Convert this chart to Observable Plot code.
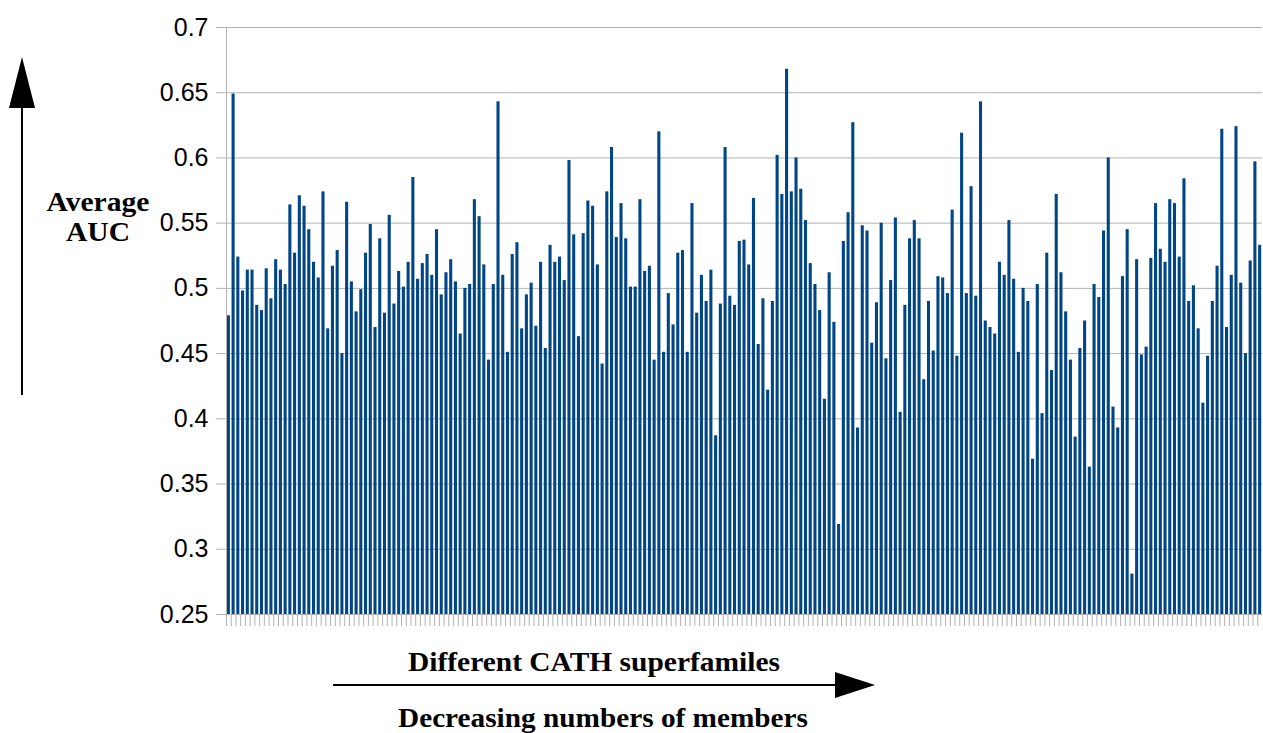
<!DOCTYPE html>
<html><head><meta charset="utf-8">
<script src="https://cdn.jsdelivr.net/npm/d3@7"></script>
<script src="https://cdn.jsdelivr.net/npm/@observablehq/plot@0.6"></script>
<style>body{margin:0;background:#fff} svg{display:block}</style>
</head><body><div id="chart"></div>
<script>
const auc = [
0.479,0.649,0.524,0.498,0.514,0.514,0.487,0.483,0.515,0.492,0.522,0.514,0.503,0.564,0.527,0.571,0.563,0.545,0.520,0.508,0.574,0.469,0.517,0.529,0.450,0.566,0.505,0.482,0.499,0.527,0.549,0.470,0.538,0.481,0.556,0.488,0.513,
0.501,0.520,0.585,0.507,0.519,0.526,0.510,0.545,0.495,0.512,0.522,0.505,0.465,0.500,0.503,0.568,0.555,0.518,0.445,0.503,0.643,0.510,0.451,0.526,0.535,0.469,0.495,0.504,0.471,0.520,0.454,0.533,0.520,0.524,0.506,0.598,0.541,
0.463,0.542,0.567,0.563,0.518,0.442,0.574,0.608,0.539,0.565,0.538,0.501,0.501,0.568,0.513,0.517,0.445,0.620,0.451,0.496,0.472,0.527,0.529,0.451,0.565,0.481,0.510,0.490,0.514,0.387,0.488,0.608,0.494,0.487,0.536,0.537,0.518,
0.569,0.457,0.492,0.422,0.490,0.602,0.572,0.668,0.574,0.600,0.576,0.552,0.519,0.503,0.483,0.415,0.512,0.474,0.319,0.536,0.558,0.627,0.393,0.548,0.544,0.458,0.489,0.550,0.446,0.506,0.554,0.405,0.487,0.538,0.552,0.538,0.430,
0.490,0.452,0.509,0.508,0.496,0.560,0.448,0.619,0.496,0.578,0.494,0.643,0.475,0.470,0.465,0.520,0.510,0.552,0.507,0.451,0.500,0.490,0.369,0.503,0.404,0.527,0.437,0.572,0.512,0.482,0.445,0.386,0.454,0.475,0.363,0.503,0.493,
0.544,0.600,0.409,0.393,0.509,0.545,0.281,0.522,0.449,0.455,0.523,0.565,0.530,0.520,0.568,0.565,0.524,0.584,0.490,0.502,0.469,0.412,0.448,0.490,0.517,0.622,0.470,0.510,0.624,0.504,0.450,0.521,0.597,0.533
];
const families = auc.map((_, i) => i + 1);
const yTicks = [0.25, 0.3, 0.35, 0.4, 0.45, 0.5, 0.55, 0.6, 0.65, 0.7];
const yLabel = ["Average", "AUC"];
const xLabelTop = "Different CATH superfamiles";
const xLabelBottom = "Decreasing numbers of members";

const data = families.map((f, i) => ({family: f, auc: auc[i]}));

const W = 1263, H = 733, mL = 226, mR = 1, mT = 27, mB = 119;
const pInner = 0.35, pOuter = 0.175;
const step = (W - mL - mR) / (families.length - pInner + 2 * pOuter);

const chart = Plot.plot({
  width: W, height: H,
  marginLeft: mL, marginRight: mR, marginTop: mT, marginBottom: mB,
  style: {fontFamily: "'Liberation Sans', Arial, sans-serif", fontSize: "25px", background: "#fff", color: "#000"},
  x: {type: "band", domain: families, paddingInner: pInner, paddingOuter: pOuter, label: null},
  y: {domain: [yTicks[0], yTicks[yTicks.length - 1]], label: null},
  marks: [
    Plot.gridY(yTicks, {stroke: "#b3b3b3", strokeOpacity: 1, strokeWidth: 1}),
    Plot.barY(data, {x: "family", y1: yTicks[0], y2: "auc", fill: "#004586"}),
    Plot.axisY(yTicks, {tickSize: 10, tickPadding: 8, stroke: "#b3b3b3", fill: "#000", fontSize: 25, label: null, tickFormat: d => String(d)}),
    Plot.axisX({tickSize: 12, stroke: "#b3b3b3", dx: -step / 2, label: null, tickFormat: () => ""}),
    Plot.ruleY([yTicks[0]], {stroke: "#b3b3b3"}),
    Plot.frame({anchor: "left", stroke: "#b3b3b3"})
  ]
});
document.getElementById("chart").appendChild(chart);

const svg = d3.select(chart);
const serif = "'Liberation Serif', 'Times New Roman', serif";
const ann = svg.append("g").attr("fill", "#000").attr("stroke", "none");
function label(t, x, y, len) {
  ann.append("text").attr("x", x).attr("y", y).attr("text-anchor", "middle")
    .attr("font-family", serif).attr("font-weight", "bold").attr("font-size", 28)
    .attr("textLength", len).attr("lengthAdjust", "spacingAndGlyphs").text(t);
}
// vertical arrow
ann.append("line").attr("x1", 22).attr("x2", 22).attr("y1", 395).attr("y2", 104).attr("stroke", "#000").attr("stroke-width", 2);
ann.append("path").attr("d", "M22,57 L9,108 L35,108 Z");
label(yLabel[0], 98, 211, 103);
label(yLabel[1], 98, 241, 64);
// horizontal arrow
ann.append("line").attr("x1", 333).attr("x2", 840).attr("y1", 685).attr("y2", 685).attr("stroke", "#000").attr("stroke-width", 2);
ann.append("path").attr("d", "M875,685 L835,672 L835,698 Z");
label(xLabelTop, 594, 671, 372);
label(xLabelBottom, 603, 727, 410);
</script>
</body></html>
